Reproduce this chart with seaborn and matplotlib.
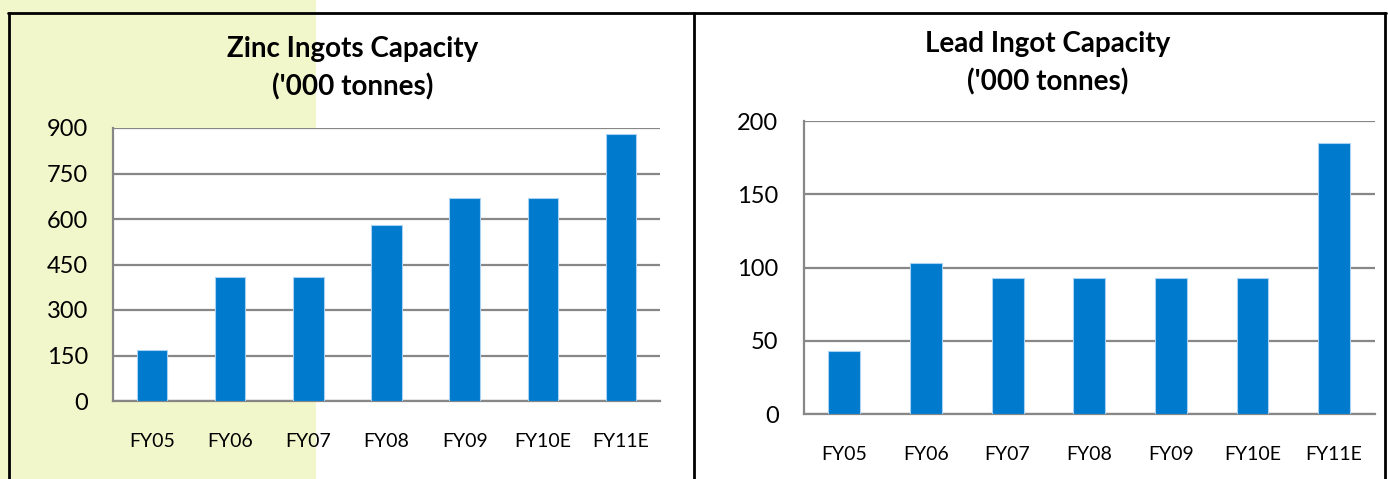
import matplotlib.pyplot as plt
import matplotlib.patches as mpatches
from matplotlib.lines import Line2D
import numpy as np
import pandas as pd
import seaborn as sns

# chart data
years = ['FY05', 'FY06', 'FY07', 'FY08', 'FY09', 'FY10E', 'FY11E']
zinc_capacity = [169, 410, 410, 580, 669, 669, 880]
lead_capacity = [43, 103, 93, 93, 93, 93, 185]
zinc_ticks = [0, 150, 300, 450, 600, 750, 900]
lead_ticks = [0, 50, 100, 150, 200]

bar_color = '#007ACC'
grid_color = '#878787'

sns.set_style('white')
plt.rcParams['font.family'] = ['Lato', 'DejaVu Sans']
plt.rcParams['text.color'] = 'black'
plt.rcParams['xtick.labelcolor'] = 'black'
plt.rcParams['ytick.labelcolor'] = 'black'

W, H = 1388, 479
fig = plt.figure(figsize=(W / 100, H / 100), dpi=100)

# pale highlight behind left part of the zinc panel
fig.patches.append(mpatches.Rectangle((0, 0), 316 / W, 1, transform=fig.transFigure,
                                      facecolor='#F2F7CB', edgecolor='none', zorder=-1))

# black frame lines around the two panels
def fig_line(x0, y0, x1, y1):
    fig.add_artist(Line2D([x0 / W, x1 / W], [1 - y0 / H, 1 - y1 / H], transform=fig.transFigure,
                          color='black', linewidth=2, zorder=5))

fig_line(8, 13, 1386, 13)
fig_line(9, 13, 9, H)
fig_line(694, 13, 694, H)
fig_line(1385, 13, 1385, H)


def draw_panel(rect, values, ticks, title, title_xy, xlabel_pad):
    ax = fig.add_axes(rect)
    ax.set_facecolor('white')
    df = pd.DataFrame({'year': years, 'capacity': values})
    sns.barplot(data=df, x='year', y='capacity', color=bar_color, saturation=1,
                width=0.39, edgecolor='#A9D2F2', linewidth=0.8, ax=ax, zorder=3)
    ax.set_xlim(-0.5, len(years) - 0.5)
    ax.set_ylim(ticks[0], ticks[-1])
    ax.set_yticks(ticks)
    ax.set_xticks(range(len(years)))
    ax.set_xticklabels(years)
    ax.set_xticks(np.arange(-0.5, len(years)), minor=True)
    ax.tick_params(axis='x', which='major', length=0, pad=xlabel_pad, labelsize=14)
    ax.tick_params(axis='x', which='minor', length=7, width=1.5, color=grid_color, direction='out')
    ax.tick_params(axis='y', length=8, width=1.5, color=grid_color, direction='out', pad=10, labelsize=17)
    ax.yaxis.grid(True, color=grid_color, linewidth=1.6)
    ax.set_axisbelow(True)
    for side in ['top', 'right']:
        ax.spines[side].set_visible(False)
    for side in ['left', 'bottom']:
        ax.spines[side].set_color(grid_color)
        ax.spines[side].set_linewidth(1.6)
    ax.set_xlabel('')
    ax.set_ylabel('')
    fig.text(title_xy[0] / W, 1 - title_xy[1] / H, title, ha='center', va='center',
             fontsize=20, fontweight='bold', linespacing=1.5)
    return ax


draw_panel([113 / W, 1 - 401 / H, 547 / W, 273 / H], zinc_capacity, zinc_ticks,
           "Zinc Ingots Capacity\n('000 tonnes)", (353, 68), 23)
draw_panel([803.5 / W, 1 - 414.3 / H, 571.5 / W, 293.3 / H], lead_capacity, lead_ticks,
           "Lead Ingot Capacity\n('000 tonnes)", (1048, 63), 23)

fig.savefig('out.png', dpi=100)
